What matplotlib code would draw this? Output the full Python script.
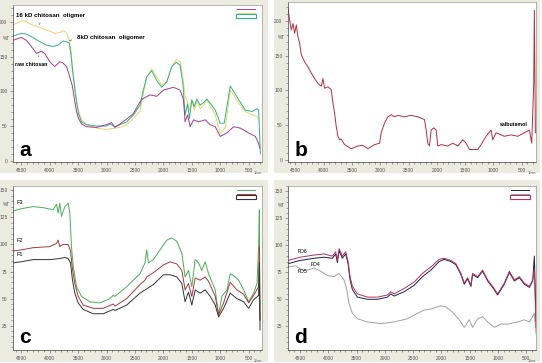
import matplotlib
matplotlib.use('Agg')
import matplotlib.pyplot as plt
from matplotlib.patches import Rectangle
from matplotlib.ticker import MultipleLocator

plt.rcParams['font.family'] = ['Liberation Sans', 'DejaVu Sans']

# ---- panel a : chitosan samples
a_yel_wn = [4647,4529,4441,4353,4235,4118,4000,3912,3824,3765,3706,3659,3629,3600,3565,3529,3494,3441,3353,3176,
            3000,2853,2765,2647,2529,2412,2353,2294,2206,2118,2029,1941,1853,1776,1706,1659,1618,1576,1541,1500,
            1459,1412,1353,1294,1235,1165,1088,1000,912,824,765,676,559,441,353,324]
a_yel_t = [196,201,202,198,194,191,187,184,185,188,185,174,160,136,112,88,71,59,52,47,
           45,47,48,52,61,71,97,121,133,121,109,114,136,146,143,121,93,85,73,88,
           73,85,75,80,88,78,66,40,47,102,95,83,71,66,64,61]
a_grn_wn = [4647,4500,4412,4294,4176,4059,3941,3853,3765,3706,3659,3629,3600,3565,3529,3494,3441,3353,3176,3000,
            2941,2853,2765,2647,2529,2412,2353,2294,2206,2118,2029,1941,1853,1776,1706,1659,1618,1576,1541,1500,
            1459,1412,1353,1294,1235,1165,1088,1000,930,824,765,676,559,441,353,324,294]
a_grn_t = [180,184,183,178,172,167,165,167,173,172,170,155,131,107,85,68,56,52,50,50,
           53,49,52,56,66,80,102,121,130,116,106,114,136,142,138,112,66,82,61,88,
           78,89,80,84,89,82,73,54,54,108,100,88,73,71,75,73,10]
a_mag_wn = [4647,4500,4412,4324,4235,4147,4088,4000,3912,3824,3765,3706,3665,3600,3565,3529,3494,3441,3353,3176,
            3000,2912,2853,2765,2647,2529,2412,2353,2235,2118,2000,1823,1706,1647,1618,1576,1529,1471,1382,1265,
            1176,1088,1000,882,765,647,500,382,324,306]
a_mag_t = [174,178,174,165,155,158,155,143,136,143,141,136,126,107,88,71,61,53,49,48,
           52,55,48,53,60,68,85,90,95,93,102,106,102,88,56,66,49,59,56,59,
           52,49,35,40,49,47,40,35,25,18]

# ---- panel b : salbutamol
b_wn = [4629,4600,4571,4541,4512,4482,4453,4424,4394,4365,4335,4277,4218,4159,4100,4041,4012,3983,3924,3865,
        3836,3806,3777,3747,3718,3689,3630,3512,3395,3306,3218,3101,3012,2983,2924,2865,2807,2748,2689,2571,
        2454,2336,2219,2189,2160,2130,2101,2054,2013,1983,1924,1806,1718,1630,1542,1483,1424,1277,1218,1130,
        1042,1013,954,807,690,572,454,366,325,289,278,260]
b_t = [218,201,187,196,182,194,177,168,151,146,141,134,125,117,110,106,117,103,105,101,
       82,67,48,34,29,30,22,16,20,21,16,22,24,39,53,62,65,62,64,62,
       64,62,58,43,24,20,43,46,43,20,22,20,24,20,29,24,15,15,22,34,
       43,29,39,34,36,34,39,43,24,110,215,39]

# ---- panel c : F1, F2, F3
c_grn_wn = [4647,4500,4294,4118,3941,3882,3853,3824,3794,3735,3676,3647,3618,3588,3529,3441,3294,3118,2941,2882,
            2853,2647,2412,2324,2294,2265,2176,2059,1941,1853,1765,1676,1618,1559,1500,1441,1382,1324,1265,1206,
            1088,1029,971,882,824,735,676,588,500,412,353,324,312,300]
c_grn_t = [131,133,135,134,132,137,129,138,126,135,138,129,98,80,61,52,47,46,50,53,
           52,61,73,83,95,83,86,95,104,106,103,92,70,76,61,86,83,76,84,73,
           58,35,52,58,73,70,67,58,47,55,64,98,132,30]
c_red_wn = [4647,4500,4294,4000,3882,3853,3824,3765,3676,3635,3600,3559,3500,3412,3235,3059,2882,2853,2647,2412,
            2324,2294,2176,2000,1882,1765,1676,1618,1559,1500,1441,1353,1265,1206,1088,1029,941,824,706,588,
            500,412,324,312,300]
c_red_t = [94,95,97,98,101,104,98,100,100,94,77,64,52,44,41,41,45,43,50,63,
           67,70,74,81,84,82,76,58,64,52,69,67,70,66,52,35,46,65,58,54,
           46,53,61,98,30]
c_blk_wn = [4647,4500,4294,4000,3824,3735,3676,3635,3600,3559,3500,3412,3235,3059,2882,2853,2647,2412,2176,2000,
            1882,1765,1676,1618,1559,1500,1441,1353,1265,1176,1088,1029,941,824,706,588,500,412,324,312,300]
c_blk_t = [83,84,86,86,87,88,87,83,67,55,46,40,36,36,40,39,44,55,63,72,
           72,70,64,47,56,44,58,55,58,52,44,33,41,55,50,47,41,49,53,83,21]

# ---- panel d : FD4, FD5, FD6
d_wn = [4712,4500,4252,4075,3928,3869,3839,3810,3751,3692,3650,3615,3574,3485,3308,3131,2954,2895,2836,2659,
        2482,2335,2187,2040,1951,1833,1745,1656,1597,1538,1479,1450,1361,1273,1184,1096,1007,889,800,712,
        623,535,446,387,358,328]
d_fd6_t = [86,89,91,92,90,94,86,97,90,94,85,71,62,55,52,52,54,57,55,60,
           66,74,80,87,88,86,83,74,65,70,63,74,71,77,68,62,55,65,76,68,
           71,65,62,68,77,24]
d_fd4_t = [83,86,88,89,88,92,84,95,88,92,83,68,59,52,50,50,52,55,53,57,
           63,71,77,85,87,85,82,73,64,69,62,73,70,76,67,61,54,64,75,67,
           70,64,61,67,90,30]
d_fd5_wn = [4712,4576,4459,4370,4252,4134,4016,3898,3810,3722,3674,3633,3574,3485,3308,3072,2836,2600,2423,2305,
            2187,2010,1922,1804,1686,1597,1508,1450,1361,1273,1184,1066,948,830,653,535,446,387,358,328]
d_fd5_t = [80,81,77,77,79,76,72,71,74,68,59,46,37,32,29,27.5,29,32,37,40,
           41,44,43,38,31,24,31,24,32,34,29,24,27,27,29,31,29,34,37,18]

W, H = 542, 363
fig = plt.figure(figsize=(W/100, H/100), dpi=100)
fig.patch.set_facecolor('white')

def box(x0, y0, x1, y1):
    return [x0/W, 1 - y1/H, (x1-x0)/W, (y1-y0)/H]

def frame(x0, y0, x1, y1):
    f = fig.add_axes(box(x0, y0, x1, y1))
    f.set_facecolor('#ecebdf')
    f.set_xticks([]); f.set_yticks([])
    for s in f.spines.values():
        s.set_visible(False)
    return f

def panel(x0, y0, x1, y1, xlim, ylim, ystep, letter):
    ax = fig.add_axes(box(x0, y0, x1, y1))
    ax.set_facecolor('white')
    ax.set_xlim(*xlim)
    ax.set_ylim(*ylim)
    ax.xaxis.set_major_locator(MultipleLocator(500))
    ax.xaxis.set_minor_locator(MultipleLocator(100))
    ax.yaxis.set_major_locator(MultipleLocator(ystep))
    ax.yaxis.set_minor_locator(MultipleLocator(ystep/5))
    ax.tick_params(which='both', direction='out', width=0.4, colors='#555555',
                   labelsize=3.5, pad=1.5)
    ax.tick_params(which='major', length=2.5)
    ax.tick_params(which='minor', length=1.2)
    for s in ax.spines.values():
        s.set_linewidth(0.5)
        s.set_color('#999999')
    ax.spines['left'].set_color('#444444')
    ax.spines['bottom'].set_color('#444444')
    # unit label sits below and right of the last tick label
    ax.text(1.0, -0.068, '1/cm', transform=ax.transAxes, fontsize=2.8,
            color='#555555', ha='right', va='center')
    ax.text(0.025, 0.075, letter, transform=ax.transAxes, fontsize=15,
            fontweight='bold', ha='left', va='center')
    return ax

def mini_legend(ax, colors):
    for i, c in enumerate(colors[:-1]):
        ax.plot([0.90, 0.97], [0.975 - i*0.025]*2, color=c, lw=0.7,
                transform=ax.transAxes)
    ax.add_patch(Rectangle((0.895, 0.92), 0.08, 0.025, transform=ax.transAxes,
                           facecolor='white', edgecolor=colors[-1], lw=0.8))

lw = 0.7

# panel a
frame(0, 0, 268, 173)
ax = panel(13, 5, 262, 162, (4647, 265), (-2, 225), 50, 'a')
ax.plot(a_yel_wn, a_yel_t, color='#e6d56a', lw=lw)
ax.plot(a_grn_wn, a_grn_t, color='#35b08a', lw=lw)
ax.plot(a_mag_wn, a_mag_t, color='#a23d8c', lw=lw)
ax.text(-0.012, 176, '%T', transform=ax.get_yaxis_transform(), fontsize=3.5,
        ha='right', va='center', color='#555555')
ax.annotate('16 kD chitosan  oligmer', xy=(4194, 193), xytext=(0.012, 0.936),
            textcoords='axes fraction', fontsize=4.4, fontweight='bold', va='center',
            arrowprops=dict(arrowstyle='-', lw=0.5, color='#555555',
                            relpos=(0.37, 0.0)))
ax.annotate('8kD chitosan  oligomer', xy=(3700, 172), xytext=(0.258, 0.79),
            textcoords='axes fraction', fontsize=4.4, fontweight='bold', va='center',
            arrowprops=dict(arrowstyle='-', lw=0.5, color='#555555',
                            relpos=(0.0, 0.5)))
ax.annotate('raw chitosan', xy=(4200, 156), xytext=(0.008, 0.618),
            textcoords='axes fraction', fontsize=3.8, fontweight='bold', va='center',
            arrowprops=dict(arrowstyle='-', lw=0.5, color='#555555',
                            relpos=(0.75, 1.0)))
mini_legend(ax, ['#a23d8c', '#e6d56a', '#35b08a'])

# panel b
frame(274, 0, 540, 173)
ax = panel(288, 2, 536, 162, (4629, 249), (-3, 227), 50, 'b')
ax.plot(b_wn, b_t, color='#b3303f', lw=lw)
ax.text(-0.012, 176, '%T', transform=ax.get_yaxis_transform(), fontsize=3.5,
        ha='right', va='center', color='#555555')
ax.text(0.855, 0.2375, 'salbutamol', transform=ax.transAxes, fontsize=3.8,
        fontweight='bold', va='center')

# panel c
frame(0, 180, 268, 362)
ax = panel(13, 186, 262, 350, (4647, 265), (2.5, 154), 25, 'c')
ax.plot(c_grn_wn, c_grn_t, color='#4cad58', lw=lw)
ax.plot(c_red_wn, c_red_t, color='#a5393a', lw=lw)
ax.plot(c_blk_wn, c_blk_t, color='#333333', lw=lw)
ax.text(-0.012, 137, '%T', transform=ax.get_yaxis_transform(), fontsize=3.5,
        ha='right', va='center', color='#555555')
for lab, fy in [('F3', 0.90), ('F2', 0.665), ('F1', 0.58)]:
    ax.text(0.016, fy, lab, transform=ax.transAxes, fontsize=4, va='center')
mini_legend(ax, ['#4cad58', '#a5393a', '#333333'])

# panel d
frame(274, 180, 540, 362)
ax = panel(288, 186, 536, 350, (4712, 329), (3, 155), 25, 'd')
ax.plot(d_fd5_wn, d_fd5_t, color='#a0a0a0', lw=lw)
ax.plot(d_wn, d_fd4_t, color='#1e1f4e', lw=lw)
ax.plot(d_wn, d_fd6_t, color='#b3305c', lw=lw)
ax.text(-0.012, 137, '%T', transform=ax.get_yaxis_transform(), fontsize=3.5,
        ha='right', va='center', color='#555555')
for lab, fx, fy in [('FD6', 0.04, 0.598), ('FD4', 0.093, 0.524), ('FD5', 0.04, 0.476)]:
    ax.text(fx, fy, lab, transform=ax.transAxes, fontsize=3.8, va='center')
mini_legend(ax, ['#1e1f4e', '#a0a0a0', '#b3305c'])

fig.savefig('out.png', dpi=100)
